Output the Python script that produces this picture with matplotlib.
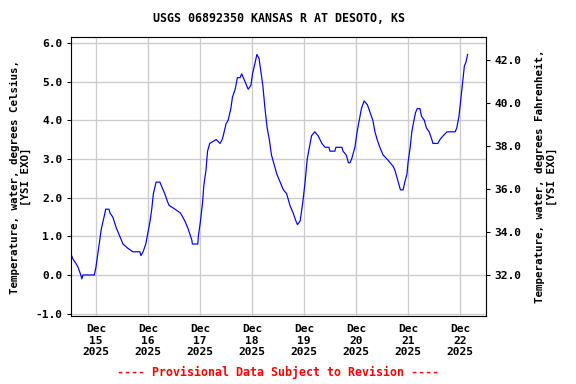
import numpy as np
import matplotlib.pyplot as plt

# hours since Dec 14 00:00, water temperature (deg C)
hours = [12.75, 13.5, 14.75, 15.75, 17.0, 17.5, 18.0, 23.25, 24.0, 25.0, 25.75, 26.5, 27.75, 28.5,
         30.0, 30.5, 31.75, 33.5, 35.0, 36.5, 38.5, 41.0, 44.25, 44.75, 45.75, 47.0, 48.0, 49.0,
         49.75, 50.5, 51.75, 53.5, 54.25, 55.75, 57.0, 57.75, 60.5, 63.0, 65.0, 66.5, 68.25, 68.5,
         71.0, 71.25, 72.25, 73.25, 73.75, 74.75, 75.5, 76.5, 79.5, 81.25, 82.25, 82.75, 84.0, 85.0,
         86.25, 87.0, 88.25, 89.25, 90.5, 91.25, 92.75, 94.25, 95.5, 96.25, 97.5, 98.25, 99.25,
         100.0, 101.0, 102.0, 103.0, 104.0, 105.0, 106.5, 107.5, 109.0, 110.5, 112.0, 113.5, 115.0,
         116.25, 117.0, 118.25, 119.5, 120.5, 121.5, 122.5, 123.5, 125.0, 126.5, 128.25, 129.75,
         131.5, 132.0, 134.25, 134.75, 137.5, 138.0, 139.5, 140.5, 141.25, 142.0, 143.5, 144.5,
         145.5, 146.5, 147.75, 149.25, 150.5, 151.75, 152.75, 153.75, 155.0, 156.5, 158.25, 159.75,
         161.25, 162.0, 163.0, 164.0, 164.5, 165.75, 166.5, 167.5, 168.0, 169.0, 169.75, 170.75,
         171.5, 172.25, 173.5, 174.25, 175.5, 176.5, 177.75, 179.0, 179.5, 181.75, 182.75, 184.25,
         186.0, 189.75, 190.5, 191.5, 192.5, 193.25, 194.0, 194.75, 195.5]
temp_c = [0.5, 0.4, 0.3, 0.2, 0.0, -0.1, 0.0, 0.0, 0.2, 0.6, 0.9, 1.2, 1.5, 1.7,
          1.7, 1.6, 1.5, 1.2, 1.0, 0.8, 0.7, 0.6, 0.6, 0.5, 0.6, 0.8, 1.1, 1.4,
          1.7, 2.1, 2.4, 2.4, 2.3, 2.1, 1.9, 1.8, 1.7, 1.6, 1.4, 1.2, 0.9, 0.8,
          0.8, 1.0, 1.4, 1.9, 2.3, 2.7, 3.2, 3.4, 3.5, 3.4, 3.5, 3.6, 3.9, 4.0,
          4.3, 4.6, 4.8, 5.1, 5.1, 5.2, 5.0, 4.8, 4.9, 5.2, 5.5, 5.7, 5.6,
          5.3, 4.9, 4.3, 3.8, 3.5, 3.1, 2.8, 2.6, 2.4, 2.2, 2.1, 1.8, 1.6,
          1.4, 1.3, 1.4, 1.9, 2.4, 3.0, 3.3, 3.6, 3.7, 3.6, 3.4, 3.3,
          3.3, 3.2, 3.2, 3.3, 3.3, 3.2, 3.1, 2.9, 2.9, 3.0, 3.3, 3.7,
          4.0, 4.3, 4.5, 4.4, 4.2, 4.0, 3.7, 3.5, 3.3, 3.1, 3.0, 2.9,
          2.8, 2.7, 2.5, 2.3, 2.2, 2.2, 2.4, 2.6, 2.9, 3.3, 3.7, 4.0,
          4.2, 4.3, 4.3, 4.1, 4.0, 3.8, 3.7, 3.5, 3.4, 3.4, 3.5, 3.6,
          3.7, 3.7, 3.8, 4.1, 4.6, 5.0, 5.4, 5.5, 5.7]

day_ticks = [24, 48, 72, 96, 120, 144, 168, 192]
day_labels = ['Dec\n15\n2025', 'Dec\n16\n2025', 'Dec\n17\n2025', 'Dec\n18\n2025',
              'Dec\n19\n2025', 'Dec\n20\n2025', 'Dec\n21\n2025', 'Dec\n22\n2025']
c_ticks = [-1.0, 0.0, 1.0, 2.0, 3.0, 4.0, 5.0, 6.0]
f_ticks = [32.0, 34.0, 36.0, 38.0, 40.0, 42.0]

plt.rcParams['font.family'] = 'DejaVu Sans Mono'
plt.rcParams['font.weight'] = 'bold'
plt.rcParams['font.size'] = 8.4

fig = plt.figure(figsize=(6, 4), dpi=96)
ax = fig.add_axes([0.1233, 0.1771, 0.7205, 0.7265])

ax.plot(hours, temp_c, color='#0000ff', lw=0.9)
ylo, yhi = -1.06, 6.15
ax.set_xlim(12.5, 204)
ax.set_ylim(ylo, yhi)
ax.set_xticks(day_ticks)
ax.set_xticklabels(day_labels, fontweight='bold')
ax.set_yticks(c_ticks)
ax.set_yticklabels(['%.1f' % v for v in c_ticks], fontweight='bold')
ax.grid(True, color='#cccccc', lw=1)
ax.tick_params(axis='x', length=0, pad=6)
ax.tick_params(axis='y', length=3)
ax.set_ylabel('Temperature, water, degrees Celsius,\n[YSI EXO]', fontweight='bold',
              fontsize=8.2, labelpad=3)
ax.set_title('USGS 06892350 KANSAS R AT DESOTO, KS', fontweight='bold', pad=11, fontsize=8.7)

ax2 = ax.twinx()
ax2.set_ylim(ylo * 1.8 + 32, yhi * 1.8 + 32)
ax2.set_yticks(f_ticks)
ax2.set_yticklabels(['%.1f' % v for v in f_ticks], fontweight='bold')
ax2.tick_params(axis='y', length=3)
ax2.set_ylabel('Temperature, water, degrees Fahrenheit,\n[YSI EXO]', fontweight='bold',
               fontsize=8.2, labelpad=10)

fig.text(0.483, 0.022, '---- Provisional Data Subject to Revision ----', color='red',
         ha='center', fontweight='bold', fontsize=8.7)

fig.savefig('out.png', dpi=96)
